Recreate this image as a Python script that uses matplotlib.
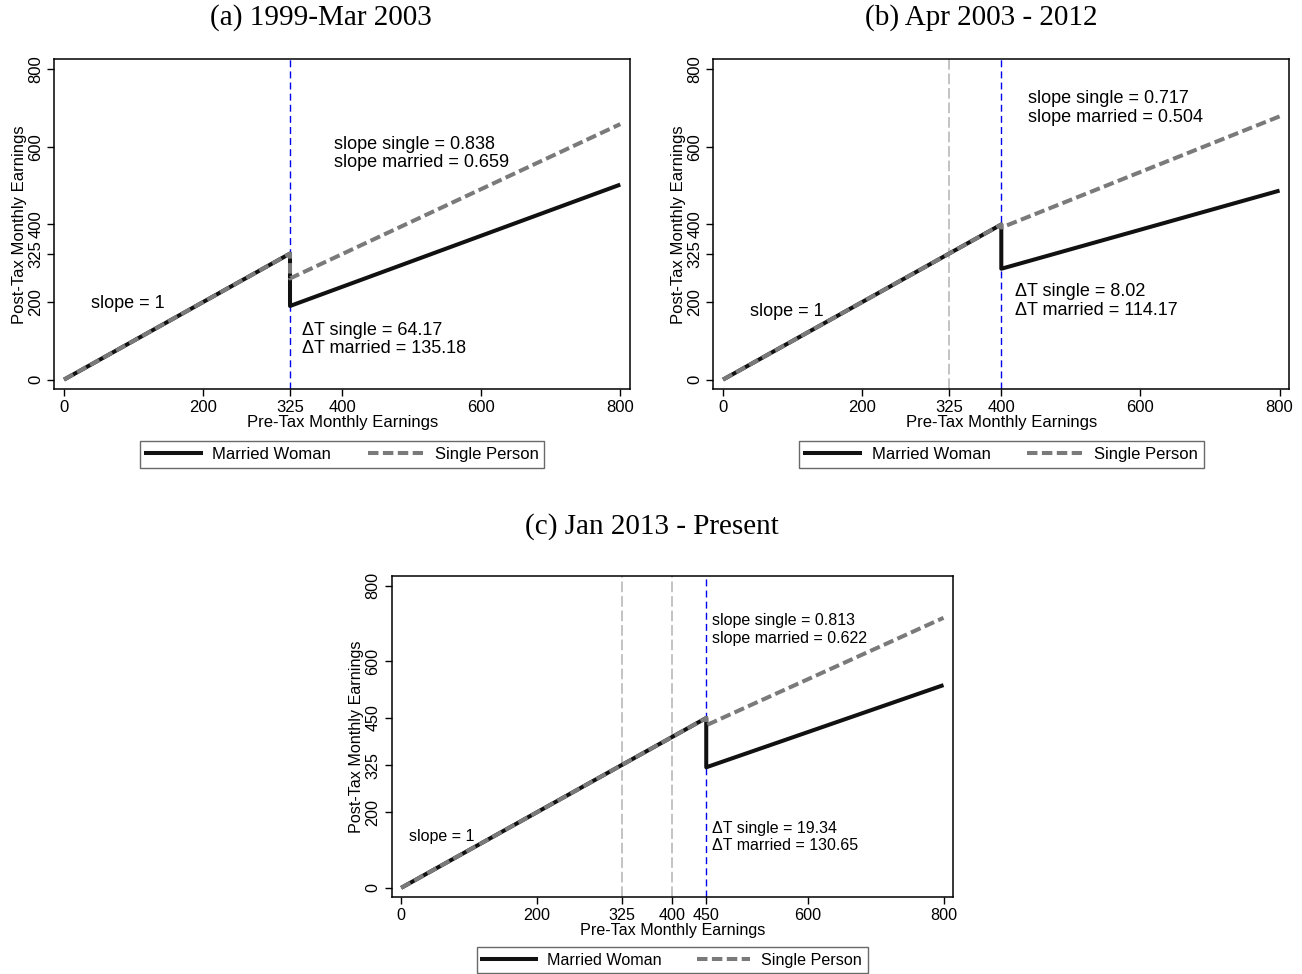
import matplotlib
matplotlib.use("Agg")
import matplotlib.pyplot as plt
from matplotlib.lines import Line2D

plt.rcParams['font.family'] = ['Liberation Sans', 'DejaVu Sans']

# Panel data: pre-tax earnings knots and post-tax earnings
titles = ["(a) 1999-Mar 2003", "(b) Apr 2003 - 2012", "(c) Jan 2013 - Present"]

x_a = [0, 325, 325, 800]
married_a = [0, 325, 189.82, 502.85]
single_a = [0, 325, 260.83, 658.88]

x_b = [0, 400, 400, 800]
married_b = [0, 400, 285.83, 487.43]
single_b = [0, 400, 391.98, 678.78]

x_c = [0, 450, 450, 800]
married_c = [0, 450, 319.35, 537.05]
single_c = [0, 450, 430.66, 715.21]

xticks_a = [0, 200, 325, 400, 600, 800]
yticks_a = [0, 200, 325, 400, 600, 800]
xticks_b = [0, 200, 325, 400, 600, 800]
yticks_b = [0, 200, 325, 400, 600, 800]
xticks_c = [0, 200, 325, 400, 450, 600, 800]
yticks_c = [0, 200, 325, 450, 600, 800]

old_thresholds_a = []
old_thresholds_b = [325]
old_thresholds_c = [325, 400]
threshold_a, threshold_b, threshold_c = 325, 400, 450

# annotations: (x, y, text)
notes_a = [(39, 196, "slope = 1"),
           (388, 607, "slope single = 0.838"),
           (388, 559, "slope married = 0.659"),
           (342, 127, "\u0394T single = 64.17"),
           (342, 79, "\u0394T married = 135.18")]
notes_b = [(39, 176, "slope = 1"),
           (439, 724, "slope single = 0.717"),
           (439, 676, "slope married = 0.504"),
           (419, 228, "\u0394T single = 8.02"),
           (419, 178, "\u0394T married = 114.17")]
notes_c = [(11, 135, "slope = 1"),
           (459, 709, "slope single = 0.813"),
           (459, 661, "slope married = 0.622"),
           (459, 158, "\u0394T single = 19.34"),
           (459, 111, "\u0394T married = 130.65")]

W, H = 1302, 974
fig = plt.figure(figsize=(W / 100, H / 100), dpi=100)


def px_axes(left, right, top, bottom):
    return fig.add_axes([left / W, 1 - bottom / H, (right - left) / W, (bottom - top) / H])


def draw_panel(ax, x, married, single, xticks, yticks, old_thr, thr, notes,
               title, title_x, title_y, fs, note_fs, leg_top):
    for t in old_thr:
        ax.axvline(t, color='#b3b3b3', lw=1.1, dashes=(7, 2.5), zorder=1)
    ax.axvline(thr, color='#0000ee', lw=1.0, dashes=(5, 3), zorder=1)
    ax.plot(x, married, color='#111111', lw=2.9, solid_capstyle='butt', zorder=2)
    ax.plot(x, single, color='#7a7a7a', lw=2.9, dashes=(2.6, 1.1), zorder=3)
    ax.set_xlim(-14, 814)
    ax.set_ylim(-25, 826)
    ax.set_xticks(xticks)
    ax.set_yticks(yticks)
    ax.set_yticklabels([str(v) for v in yticks], rotation=90, va='center')
    ax.tick_params(direction='out', length=5, width=1, labelsize=fs, pad=3)
    for s in ax.spines.values():
        s.set_linewidth(1.1)
    ax.set_xlabel("Pre-Tax Monthly Earnings", fontsize=fs, labelpad=0)
    ax.set_ylabel("Post-Tax Monthly Earnings", fontsize=fs, labelpad=1)
    for nx, ny, txt in notes:
        ax.text(nx, ny, txt, ha='left', va='center', fontsize=note_fs)
    bb = ax.get_position()
    cx = (bb.x0 + bb.x1) / 2
    fig.text(title_x / W, 1 - title_y / H, title, ha='center', va='center',
             fontsize=21, family='Liberation Serif')
    handles = [Line2D([], [], color='#111111', lw=2.9),
               Line2D([], [], color='#7a7a7a', lw=2.9, dashes=(2.6, 1.1))]
    leg = ax.legend(handles, ["Married Woman", "Single Person"], ncol=2,
                    loc='upper center', bbox_to_anchor=(cx, 1 - leg_top / H),
                    bbox_transform=fig.transFigure, fontsize=fs,
                    frameon=True, fancybox=False, handlelength=3.3,
                    handletextpad=0.7, columnspacing=2.2, borderpad=0.35,
                    borderaxespad=0)
    leg.get_frame().set_edgecolor('#444444')
    leg.get_frame().set_linewidth(1.0)


ax_a = px_axes(54.3, 630, 59.3, 389.3)
draw_panel(ax_a, x_a, married_a, single_a, xticks_a, yticks_a, old_thresholds_a,
           threshold_a, notes_a, titles[0], 321, 18, 12, 13, 441)

ax_b = px_axes(713.3, 1289.3, 59.3, 389.3)
draw_panel(ax_b, x_b, married_b, single_b, xticks_b, yticks_b, old_thresholds_b,
           threshold_b, notes_b, titles[1], 981, 18, 12, 13, 441)

ax_c = px_axes(391.7, 953, 576, 897.3)
draw_panel(ax_c, x_c, married_c, single_c, xticks_c, yticks_c, old_thresholds_c,
           threshold_c, notes_c, titles[2], 652, 527, 11.6, 11.5, 947)

fig.savefig("out.png", dpi=100)
